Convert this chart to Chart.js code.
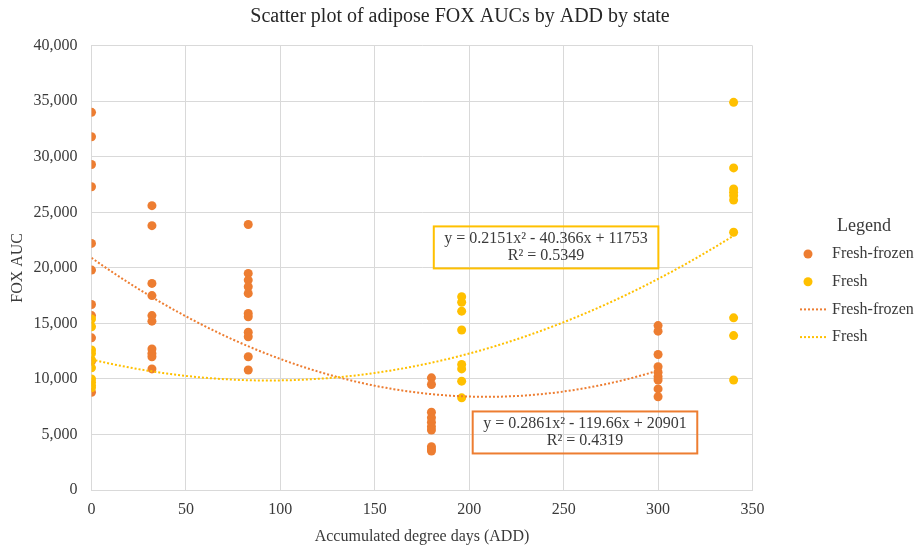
<!DOCTYPE html>
<html>
<head>
<meta charset="utf-8">
<script src="https://cdn.jsdelivr.net/npm/chart.js@4.4.1/dist/chart.umd.min.js"></script>
<style>
  html, body { margin: 0; padding: 0; background: #ffffff; }
  #wrap { width: 920px; height: 550px; }
</style>
</head>
<body>
<div id="wrap"><canvas id="chart" width="920" height="550"></canvas></div>
<script>
// Accumulated degree days at which each group was sampled
const frozenADD = [0, 32, 83, 180, 300];
const freshADD = [0, 196, 340];

// FOX AUC values per sampling day (one inner list per ADD above)
const frozenAUC = [
  [34000, 31800, 29300, 27300, 22200, 19800, 16700, 15700, 13700, 11600, 8800],
  [25600, 23800, 18600, 17500, 15700, 15200, 12700, 12300, 12000, 10900],
  [23900, 19500, 18900, 18300, 17700, 15900, 15600, 14200, 13800, 12000, 10800],
  [10100, 9500, 7000, 6500, 6100, 5700, 5400, 3900, 3700, 3500],
  [14800, 14300, 12200, 11100, 10600, 10200, 9900, 9100, 8400]
];
const freshAUC = [
  [15400, 14700, 12600, 12300, 11700, 11000, 10000, 9700, 9400, 9200],
  [17400, 16900, 16100, 14400, 11300, 10900, 9800, 8300],
  [34900, 29000, 27100, 26800, 26500, 26100, 23200, 15500, 13900, 9900]
];

// Polynomial trendlines (a, b, c for y = a·x² + b·x + c) and their R²
const frozenTrend = [0.2861, -119.66, 20901];
const frozenR2 = 0.4319;
const freshTrend = [0.2151, -40.366, 11753];
const freshR2 = 0.5349;

const seriesNames = ['Fresh-frozen', 'Fresh'];
const xTickStep = 50;
const yTickStep = 5000;

const ORANGE = '#ED7D31';
const YELLOW = '#FFC000';
const GRID = '#d9d9d9';
const TEXT = '#3a3a3a';
const SERIF = '"Liberation Serif", "Times New Roman", serif';

function toPoints(days, values) {
  const pts = [];
  days.forEach((d, i) => values[i].forEach(v => pts.push({ x: d, y: v })));
  return pts;
}

function trendCurve(coef, from, to) {
  const pts = [];
  for (let x = from; x <= to; x += 2) {
    pts.push({ x: x, y: coef[0] * x * x + coef[1] * x + coef[2] });
  }
  return pts;
}

function equationText(coef) {
  const sign = v => (v < 0 ? ' - ' : ' + ') + Math.abs(v);
  return 'y = ' + coef[0] + 'x\u00B2' + sign(coef[1]) + 'x' + sign(coef[2]);
}

// Equation boxes anchored in data coordinates
const equationBoxes = {
  id: 'equationBoxes',
  afterDatasetsDraw(chart, args, opts) {
    const { ctx, scales } = chart;
    ctx.save();
    ctx.font = '16px ' + SERIF;
    ctx.textAlign = 'center';
    ctx.textBaseline = 'middle';
    opts.items.forEach(item => {
      const cx = scales.x.getPixelForValue(item.at[0]);
      const cy = scales.y.getPixelForValue(item.at[1]);
      const w = Math.max(...item.lines.map(l => ctx.measureText(l).width)) + 21;
      const h = 42;
      ctx.strokeStyle = item.color;
      ctx.lineWidth = 2;
      ctx.strokeRect(cx - w / 2, cy - h / 2, w, h);
      ctx.fillStyle = TEXT;
      ctx.fillText(item.lines[0], cx, cy - 8.25);
      ctx.fillText(item.lines[1], cx, cy + 8.25);
    });
    ctx.restore();
  }
};

// Legend listing markers and trendlines to the right of the plot
const sideLegend = {
  id: 'sideLegend',
  afterDraw(chart, args, o) {
    const ctx = chart.ctx;
    ctx.save();
    ctx.fillStyle = TEXT;
    ctx.textBaseline = 'middle';
    ctx.textAlign = 'center';
    ctx.font = '18px ' + SERIF;
    ctx.fillText(o.title, o.titleX, o.titleY);
    ctx.font = '16px ' + SERIF;
    ctx.textAlign = 'left';
    chart.data.datasets.forEach((ds, i) => {
      const yy = o.firstY + i * o.step;
      if (ds.showLine) {
        ctx.strokeStyle = ds.borderColor;
        ctx.lineWidth = ds.borderWidth;
        ctx.setLineDash(ds.borderDash);
        ctx.beginPath();
        ctx.moveTo(o.x, yy);
        ctx.lineTo(o.x + 27, yy);
        ctx.stroke();
        ctx.setLineDash([]);
      } else {
        ctx.fillStyle = ds.backgroundColor;
        ctx.beginPath();
        ctx.arc(o.x + 8, yy, ds.pointRadius, 0, Math.PI * 2);
        ctx.fill();
      }
      ctx.fillStyle = TEXT;
      ctx.fillText(ds.label, o.x + 32, yy);
    });
    ctx.restore();
  }
};

const tickFont = { family: SERIF, size: 16 };

new Chart(document.getElementById('chart'), {
  type: 'scatter',
  data: {
    datasets: [
      {
        label: seriesNames[0],
        data: toPoints(frozenADD, frozenAUC),
        backgroundColor: ORANGE,
        borderWidth: 0,
        pointRadius: 4.5,
        pointHoverRadius: 4.5,
        order: 4
      },
      {
        label: seriesNames[1],
        data: toPoints(freshADD, freshAUC),
        backgroundColor: YELLOW,
        borderWidth: 0,
        pointRadius: 4.5,
        pointHoverRadius: 4.5,
        order: 3
      },
      {
        label: seriesNames[0],
        data: trendCurve(frozenTrend, frozenADD[0], frozenADD[frozenADD.length - 1]),
        showLine: true,
        borderColor: ORANGE,
        borderWidth: 2,
        borderDash: [2, 2],
        pointRadius: 0,
        fill: false,
        order: 2
      },
      {
        label: seriesNames[1],
        data: trendCurve(freshTrend, freshADD[0], freshADD[freshADD.length - 1]),
        showLine: true,
        borderColor: YELLOW,
        borderWidth: 2,
        borderDash: [2, 2],
        pointRadius: 0,
        fill: false,
        order: 1
      }
    ]
  },
  options: {
    responsive: false,
    animation: false,
    events: [],
    layout: { padding: 0 },
    plugins: {
      legend: { display: false },
      tooltip: { enabled: false },
      title: {
        display: true,
        text: 'Scatter plot of adipose FOX AUCs by ADD by state',
        font: { family: SERIF, size: 20, weight: 'normal' },
        color: '#262626',
        padding: { top: 5, bottom: 16.7 }
      },
      equationBoxes: {
        items: [
          { at: [240.7, 21840], color: YELLOW,
            lines: [equationText(freshTrend), 'R\u00B2 = ' + freshR2] },
          { at: [261.3, 5180], color: ORANGE,
            lines: [equationText(frozenTrend), 'R\u00B2 = ' + frozenR2] }
        ]
      },
      sideLegend: { title: 'Legend', titleX: 864, titleY: 226, x: 800, firstY: 254, step: 27.7 }
    },
    scales: {
      x: {
        type: 'linear',
        min: 0,
        max: 350,
        ticks: { stepSize: xTickStep, padding: 10, font: tickFont, color: TEXT },
        grid: { color: GRID, drawTicks: false },
        border: { color: GRID },
        title: {
          display: true,
          text: 'Accumulated degree days (ADD)',
          font: tickFont,
          color: TEXT,
          padding: { top: 8, bottom: 3.4 }
        },
        afterFit: scale => { scale.paddingRight = 167.5; scale.height = 60; }
      },
      y: {
        min: 0,
        max: 40000,
        ticks: {
          stepSize: yTickStep,
          padding: 14,
          font: tickFont,
          color: TEXT,
          callback: v => v.toLocaleString('en-US')
        },
        grid: { color: GRID, drawTicks: false },
        border: { color: GRID },
        title: {
          display: true,
          text: 'FOX AUC',
          font: tickFont,
          color: TEXT,
          padding: { top: 8.4, bottom: 5.7 }
        },
        afterFit: scale => { scale.width = 91.5; }
      }
    }
  },
  plugins: [equationBoxes, sideLegend]
});
</script>
</body>
</html>
